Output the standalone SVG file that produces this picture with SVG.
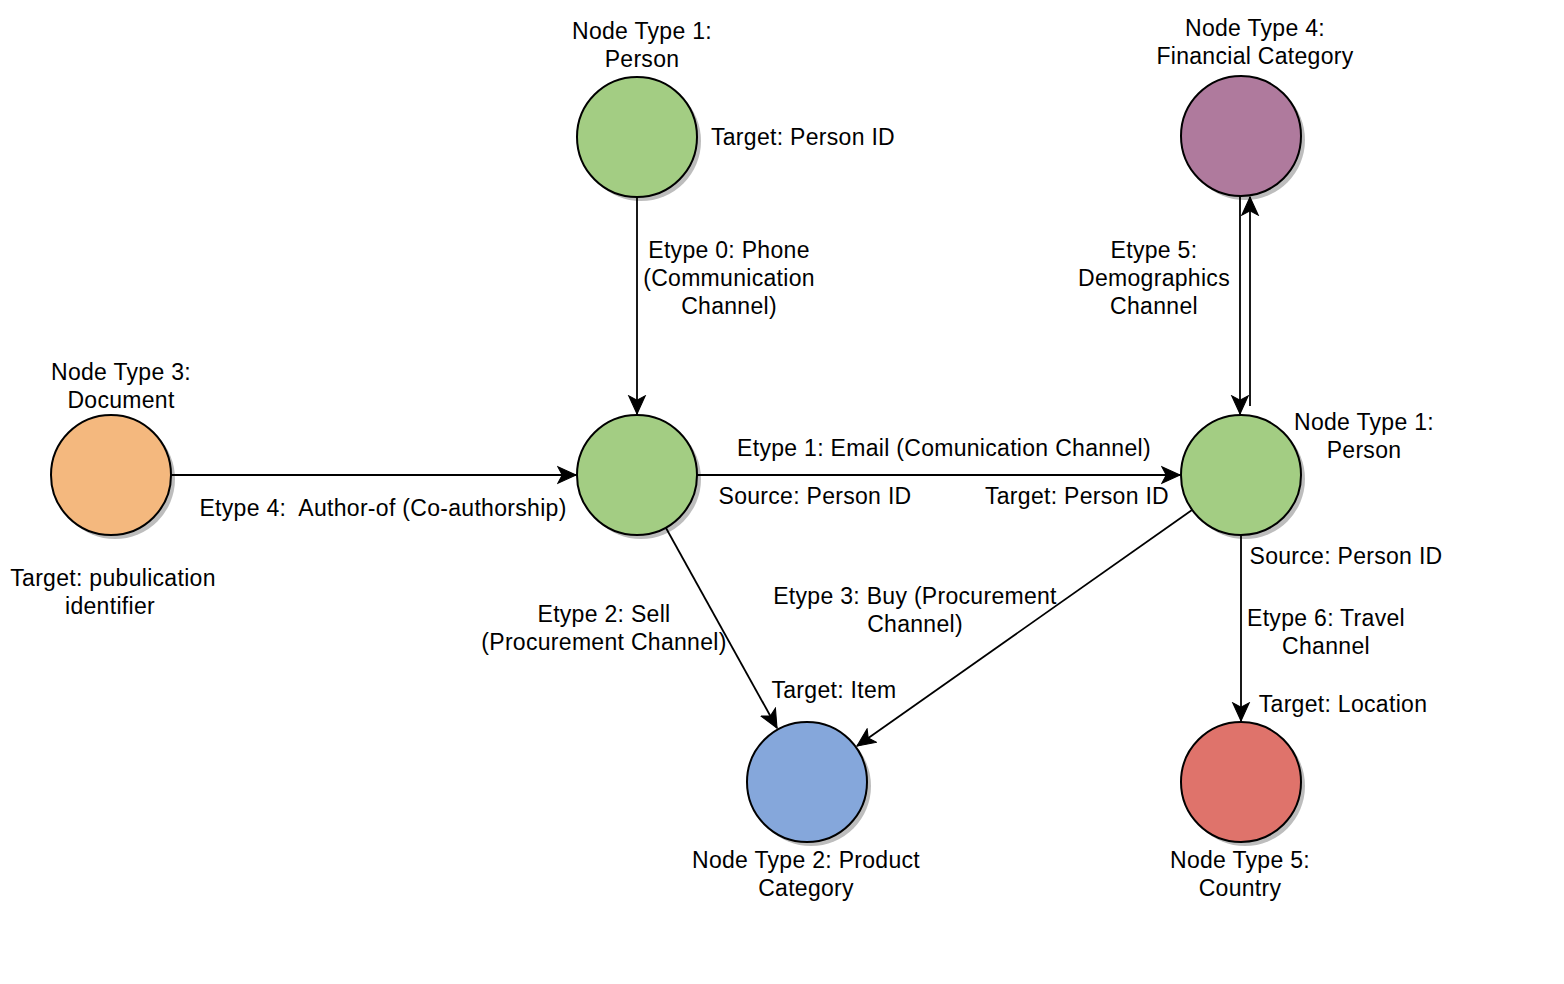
<svg xmlns="http://www.w3.org/2000/svg" width="1564" height="984" viewBox="0 0 1564 984">
<style>
text{font-family:"Liberation Sans",Arial,Helvetica,sans-serif;font-size:23px;letter-spacing:0.3px;fill:#000;text-anchor:middle}
.n{stroke:#000;stroke-width:2}
.sh{fill:#bdbdbd}
.e{stroke:#000;stroke-width:1.8;fill:none;marker-end:url(#arr)}
.green{fill:#A3CD83}
</style>
<defs>
<marker id="arr" markerUnits="userSpaceOnUse" markerWidth="22" markerHeight="22" refX="17" refY="8.5" orient="auto" viewBox="0 0 20 17">
<path d="M0.5,1 L17,8.5 L0.5,16 L4.5,8.5 Z" fill="#000" stroke="#000" stroke-width="1"/>
</marker>
</defs>
<rect width="1564" height="984" fill="#fff"/>
<g id="node-person-top">
<circle class="sh" cx="641" cy="141" r="60"/>
<circle class="n green" cx="637" cy="137" r="60"/>
<text x="642" y="39">Node Type 1:</text>
<text x="642" y="67">Person</text>
<text x="803" y="145">Target: Person ID</text>
</g>
<g id="node-financial">
<circle class="sh" cx="1245" cy="140" r="60"/>
<circle class="n" cx="1241" cy="136" r="60" fill="#AF7A9D"/>
<text x="1255" y="36">Node Type 4:</text>
<text x="1255" y="64">Financial Category</text>
</g>
<g id="node-document">
<circle class="sh" cx="115" cy="479" r="60"/>
<circle class="n" cx="111" cy="475" r="60" fill="#F4B87E"/>
<text x="121" y="380">Node Type 3:</text>
<text x="121" y="408">Document</text>
<text x="113" y="586">Target: pubulication</text>
<text x="110" y="614">identifier</text>
</g>
<g id="node-person-center">
<circle class="sh" cx="641" cy="479" r="60"/>
<circle class="n green" cx="637" cy="475" r="60"/>
</g>
<g id="node-person-right">
<circle class="sh" cx="1245" cy="479" r="60"/>
<circle class="n green" cx="1241" cy="475" r="60"/>
<text x="1364" y="430">Node Type 1:</text>
<text x="1364" y="458">Person</text>
</g>
<g id="node-product">
<circle class="sh" cx="811" cy="786" r="60"/>
<circle class="n" cx="807" cy="782" r="60" fill="#85A7DB"/>
<text x="806" y="868">Node Type 2: Product</text>
<text x="806" y="896">Category</text>
</g>
<g id="node-country">
<circle class="sh" cx="1245" cy="786" r="60"/>
<circle class="n" cx="1241" cy="782" r="60" fill="#DF736B"/>
<text x="1240" y="868">Node Type 5:</text>
<text x="1240" y="896">Country</text>
</g>
<g id="connectors">
<line class="e" x1="637" y1="197" x2="637" y2="414"/>
<line class="e" x1="171" y1="475" x2="576" y2="475"/>
<line class="e" x1="697" y1="475" x2="1180" y2="475"/>
<line class="e" x1="666" y1="528" x2="777" y2="728"/>
<line class="e" x1="1192" y1="510" x2="857" y2="746"/>
<line class="e" x1="1241" y1="535" x2="1241" y2="721"/>
<line class="e" x1="1240" y1="196" x2="1240" y2="414"/>
<line class="e" x1="1250" y1="406" x2="1250" y2="197"/>
</g>
<g id="edge-labels">
<text x="729" y="258">Etype 0: Phone</text>
<text x="729" y="286">(Communication</text>
<text x="729" y="314">Channel)</text>
<text x="1154" y="258">Etype 5:</text>
<text x="1154" y="286">Demographics</text>
<text x="1154" y="314">Channel</text>
<text x="944" y="456">Etype 1: Email (Comunication Channel)</text>
<text x="383" y="516" xml:space="preserve">Etype 4:  Author-of (Co-authorship)</text>
<text x="815" y="504">Source: Person ID</text>
<text x="1077" y="504">Target: Person ID</text>
<text x="1346" y="564">Source: Person ID</text>
<text x="604" y="622">Etype 2: Sell</text>
<text x="604" y="650">(Procurement Channel)</text>
<text x="915" y="604">Etype 3: Buy (Procurement</text>
<text x="915" y="632">Channel)</text>
<text x="1326" y="626">Etype 6: Travel</text>
<text x="1326" y="654">Channel</text>
<text x="834" y="698">Target: Item</text>
<text x="1343" y="712">Target: Location</text>
</g>
</svg>
